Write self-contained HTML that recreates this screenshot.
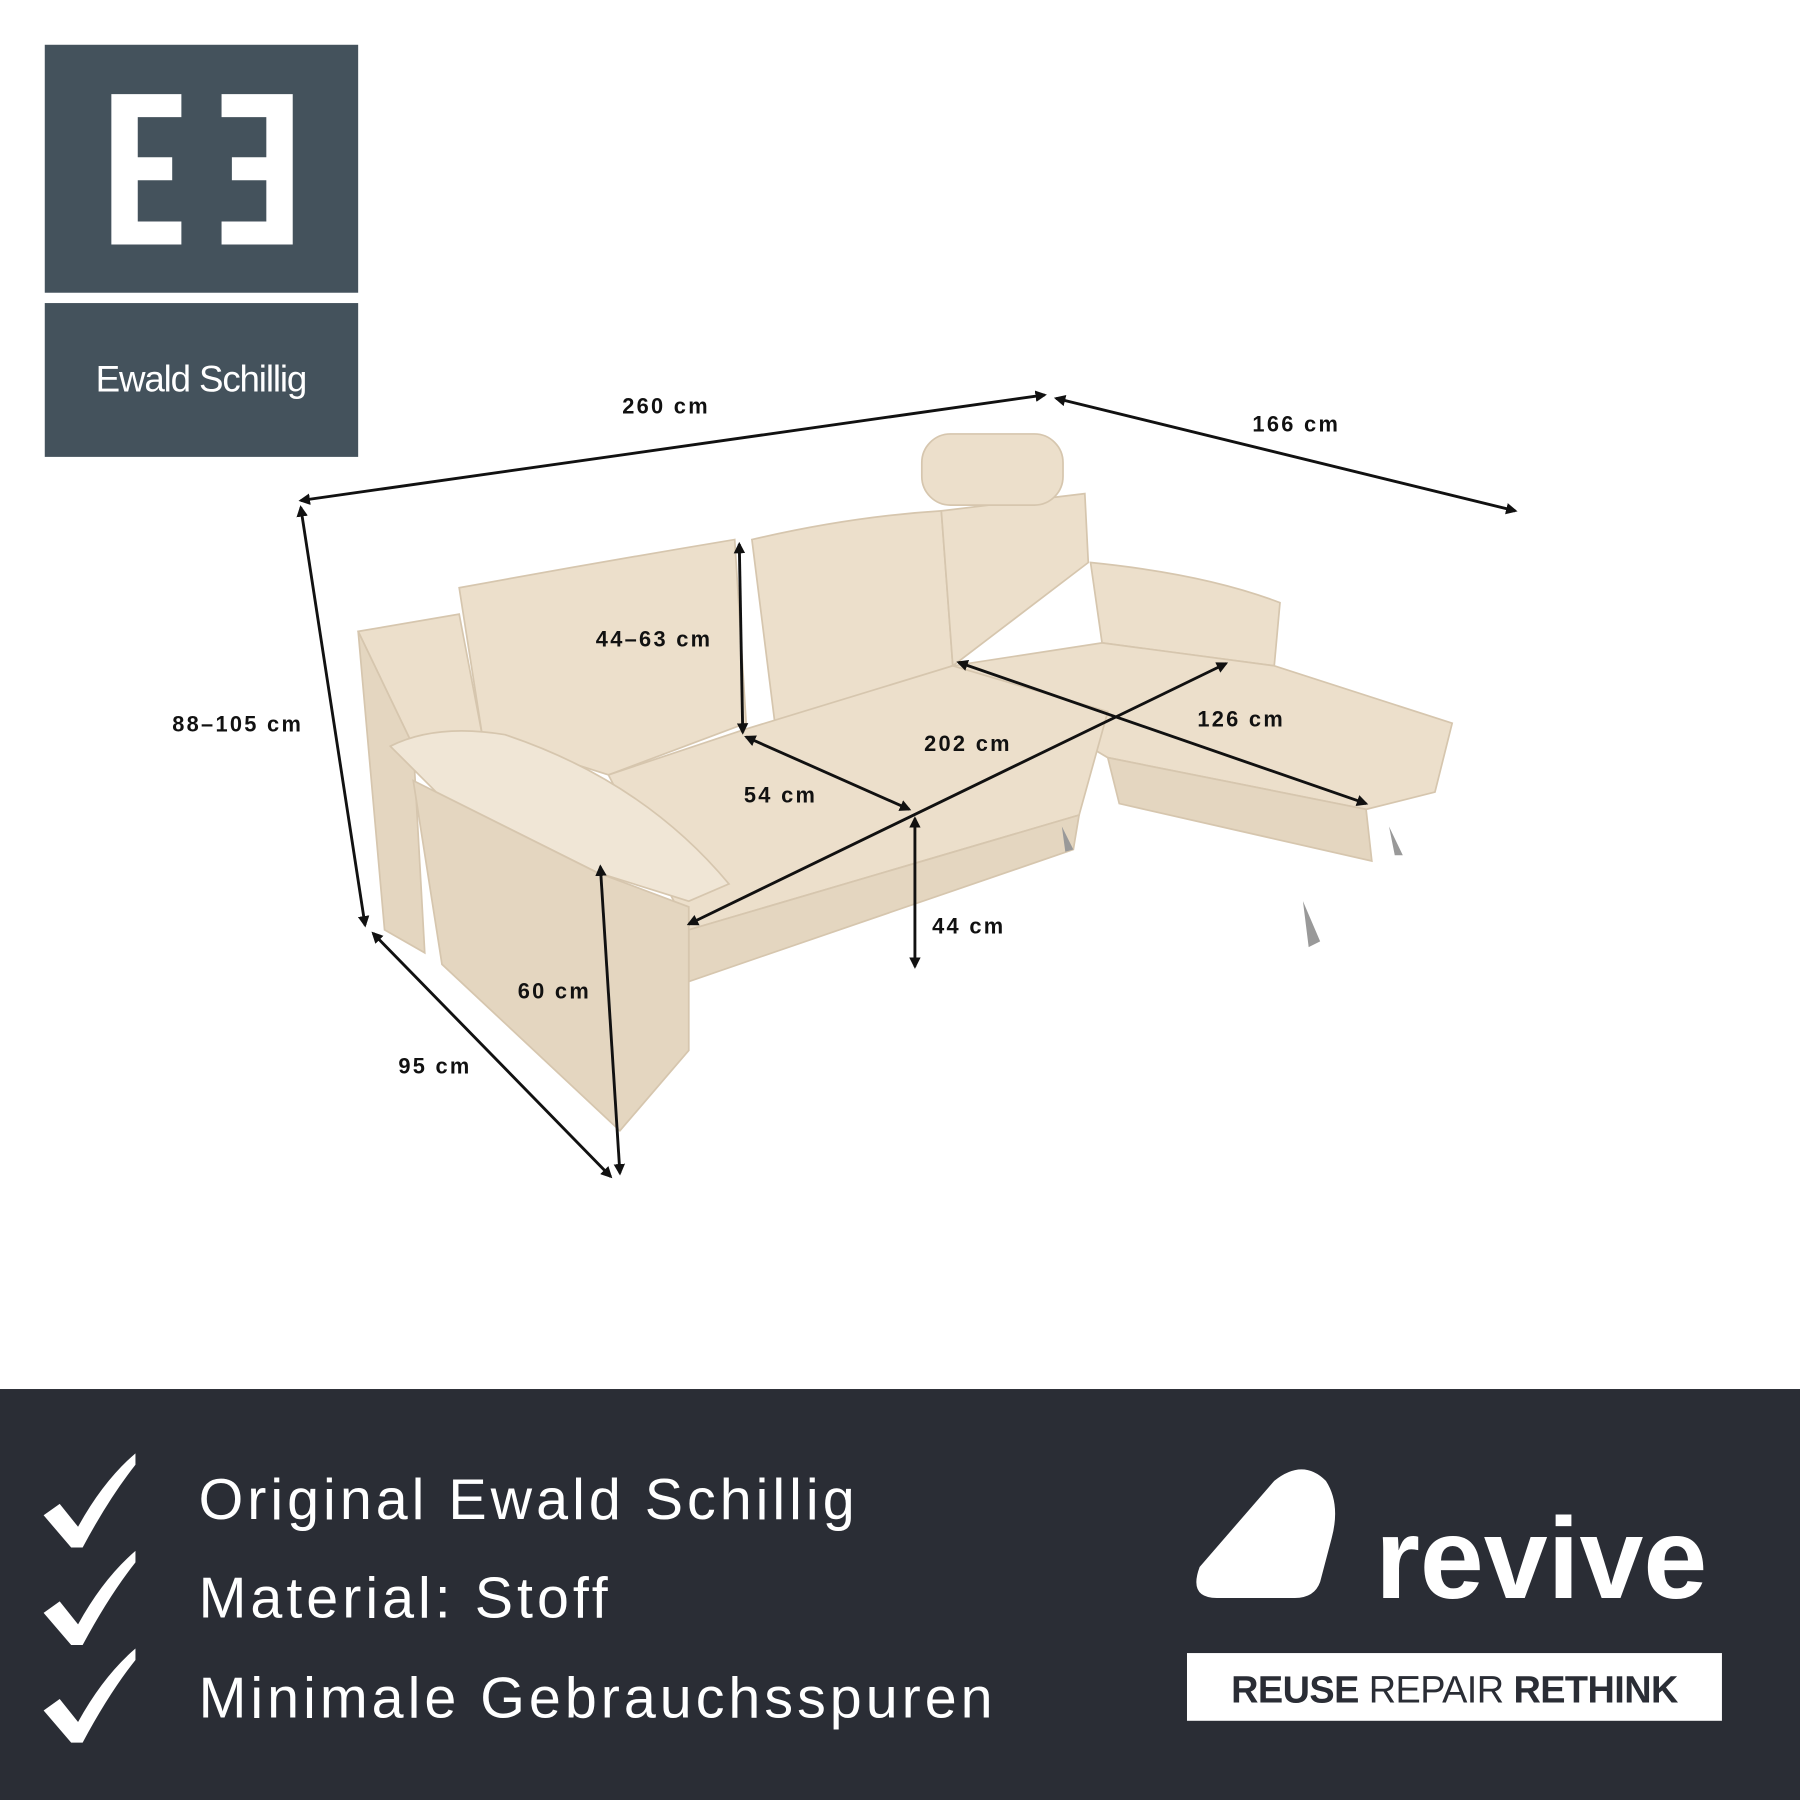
<!DOCTYPE html>
<html><head><meta charset="utf-8"><style>
html,body{margin:0;padding:0;background:#fff;}
svg{display:block}
</style></head><body>
<svg width="1800" height="1800" viewBox="0 0 1568 1568" xmlns="http://www.w3.org/2000/svg" font-family="Liberation Sans, sans-serif">
<defs>
<marker id="a" markerWidth="10" markerHeight="10" refX="8" refY="5" orient="auto-start-reverse" markerUnits="userSpaceOnUse"><path d="M0,0 L10,5 L0,10 z" fill="#111"/></marker>
</defs>
<rect width="1568" height="1568" fill="#fff"/>
<rect x="39" y="39" width="273" height="216" fill="#44525c"/>
<rect x="39" y="264" width="273" height="134" fill="#44525c"/>
<path d="M97,82 H158 V102 H120 V137 H150 V157 H120 V193 H158 V213 H97 Z" fill="#fff"/>
<path d="M193,82 H255 V213 H193 V193 H232 V157 H202 V137 H232 V102 H193 Z" fill="#fff"/>
<text x="175" y="341" fill="#fff" font-size="32" text-anchor="middle" letter-spacing="-1">Ewald Schillig</text>
<g fill="#ecdfcb" stroke="#d6c6ae" stroke-width="1.5">
<path d="M312,550 L400,535 L420,640 L360,650 Z"/>
<path d="M312,550 L360,650 L370,830 L335,810 Z" fill="#e4d6c0"/>
<path d="M400,512 Q520,490 640,470 L650,630 L530,675 L420,640 Z"/>
<path d="M655,470 Q740,450 820,445 L830,580 L675,630 Z"/>
<path d="M820,445 L945,430 L948,490 L830,580 Z"/>
<rect x="803" y="378" width="123" height="62" rx="25"/>
<path d="M950,490 Q1050,500 1115,525 L1110,580 L960,560 Z"/>
<path d="M830,580 L960,560 L1110,580 L1265,630 L1250,690 L1190,705 L965,660 Z"/>
<path d="M965,660 L1190,705 L1195,750 L975,700 Z" fill="#e4d6c0"/>
<path d="M530,675 L650,635 L830,580 L965,620 L940,710 L600,810 Z"/>
<path d="M600,810 L940,710 L935,740 L600,855 Z" fill="#e4d6c0"/>
<path d="M340,650 Q380,630 440,640 Q560,680 635,770 L600,785 L520,760 L380,690 Z" fill="#f0e6d6"/>
<path d="M360,680 L520,760 L600,790 L600,915 L540,985 L385,840 Z" fill="#e4d6c0"/>
</g>
<path d="M1135,785 L1150,820 L1140,825 Z M1210,720 L1222,745 L1215,745 Z M925,720 L935,740 L928,742 Z" fill="#999"/>
<g stroke="#111" stroke-width="2.5" marker-start="url(#a)" marker-end="url(#a)" fill="none">
<line x1="262" y1="436" x2="910" y2="344"/>
<line x1="920" y1="347" x2="1320" y2="445"/>
<line x1="262" y1="442" x2="318" y2="806"/>
<line x1="325" y1="813" x2="532" y2="1025"/>
<line x1="523" y1="755" x2="540" y2="1022"/>
<line x1="644" y1="474" x2="647" y2="638"/>
<line x1="650" y1="642" x2="792" y2="705"/>
<line x1="600" y1="805" x2="1068" y2="578"/>
<line x1="835" y1="577" x2="1190" y2="700"/>
<line x1="797" y1="713" x2="797" y2="842"/>
</g>
<g font-size="19" font-weight="bold" fill="#111" letter-spacing="2">
<text x="542" y="360">260 cm</text>
<text x="1091" y="376">166 cm</text>
<text x="150" y="637">88–105 cm</text>
<text x="519" y="563">44–63 cm</text>
<text x="805" y="654">202 cm</text>
<text x="1043" y="633">126 cm</text>
<text x="648" y="699">54 cm</text>
<text x="812" y="813">44 cm</text>
<text x="451" y="870">60 cm</text>
<text x="347" y="935">95 cm</text>
</g>
<rect x="0" y="1210" width="1568" height="358" fill="#2a2d35"/>
<g fill="#fff">
<path d="M38,1320 L52,1310 L68,1330 Q90,1290 118,1266 L118,1276 Q95,1305 72,1348 L62,1348 Z"/>
<path d="M38,1405 L52,1395 L68,1415 Q90,1375 118,1351 L118,1361 Q95,1390 72,1433 L62,1433 Z"/>
<path d="M38,1490 L52,1480 L68,1500 Q90,1460 118,1436 L118,1446 Q95,1475 72,1518 L62,1518 Z"/>
<g font-size="50" letter-spacing="3.5">
<text x="173" y="1323">Original Ewald Schillig</text>
<text x="173" y="1409">Material: Stoff</text>
<text x="173" y="1496">Minimale Gebrauchsspuren</text>
</g>
<path d="M1060,1392 Q1035,1392 1045,1365 L1110,1290 Q1135,1270 1155,1290 Q1168,1310 1160,1340 L1150,1378 Q1145,1392 1128,1392 Z"/>
<text x="1198" y="1392" font-size="100" font-weight="bold" letter-spacing="0">revive</text>
<rect x="1034" y="1440" width="466" height="59" fill="#fff"/>
</g>
<text x="1267" y="1483" font-size="33" text-anchor="middle" fill="#2a2d35" letter-spacing="-0.5"><tspan font-weight="bold">REUSE</tspan> REPAIR <tspan font-weight="bold">RETHINK</tspan></text>
</svg>
</body></html>
